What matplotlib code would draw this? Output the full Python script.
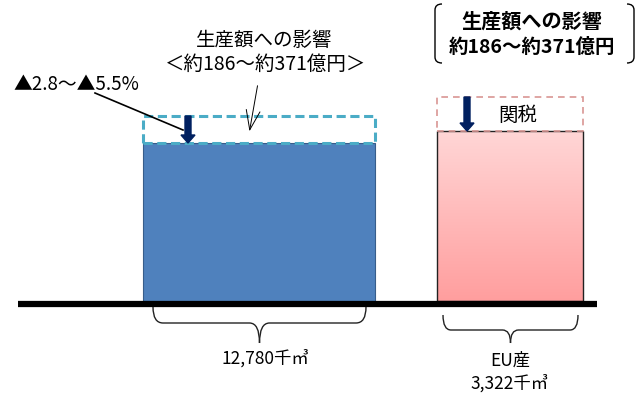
import numpy as np
import matplotlib.pyplot as plt
from matplotlib.path import Path
from matplotlib.patches import PathPatch, FancyArrow

plt.rcParams['font.family'] = ['Noto Sans CJK JP', 'DejaVu Sans']

# data (diagram heights in pixels, baseline = 0)
bar_labels = ['12,780千㎥', 'EU産\n3,322千㎥']
bar_heights = [158, 170]
tariff_heights = [27, 34]
impact_pct = '▲2.8～▲5.5%'
impact_title = '生産額への影響'
impact_range = '約186～約371億円'

# layout
bar_x = [259, 510]
bar_w = [232, 146]
bar_face = ['#4F81BD', None]
dash_col = ['#4BACC6', '#D99694']
arrow_x = [188, 467]
navy = '#002060'

fig = plt.figure(figsize=(6.4, 3.99), dpi=100)
ax = fig.add_axes([0, 0, 1, 1])
ax.set_xlim(0, 640)
ax.set_ylim(-98, 301)
ax.axis('off')

# blue bar
ax.bar(bar_x[0], bar_heights[0], width=bar_w[0], color=bar_face[0],
       edgecolor='#385D8A', linewidth=0.8, zorder=2)

# pink gradient bar
x0 = bar_x[1] - bar_w[1] / 2
x1 = bar_x[1] + bar_w[1] / 2
grad = np.linspace(0, 1, 256).reshape(-1, 1)
top = np.array([255, 214, 214]) / 255
bot = np.array([255, 158, 158]) / 255
img = top + (bot - top) * grad[:, :, None] * np.ones((1, 1, 3))
ax.imshow(img, extent=[x0, x1, 0, bar_heights[1]], origin='upper',
          aspect='auto', zorder=1)
ax.bar(bar_x[1], bar_heights[1], width=bar_w[1], color='none',
       edgecolor='#222222', linewidth=1.0, zorder=2)

# tariff dashed boxes + arrows
for i in range(2):
    ax.bar(bar_x[i], tariff_heights[i], bottom=bar_heights[i], width=bar_w[i],
           color='none', edgecolor=dash_col[i],
           linewidth=2.2 if i == 0 else 1.2,
           linestyle=(0, (3, 1.5)) if i == 0 else (0, (4, 3)), zorder=3)
    ax.add_patch(FancyArrow(arrow_x[i], bar_heights[i] + tariff_heights[i],
                            0, -tariff_heights[i], width=6, head_width=14,
                            head_length=8, length_includes_head=True,
                            color=navy, zorder=4))

ax.text(518, 186, '関税', ha='center', va='center', fontsize=14)

# baseline
ax.hlines(-3, 18, 597, color='black', linewidth=4.5, zorder=3)

# left annotations
ax.text(76, 216, impact_pct, ha='center', va='center', fontsize=13.5)
ax.plot([95, 183], [208, 171], color='black', linewidth=1.2, zorder=5)
ax.text(264, 261, impact_title, ha='center', va='center', fontsize=14)
ax.text(266, 237, '＜' + impact_range + '＞', ha='center', va='center',
        fontsize=14)
ax.annotate('', xy=(249, 167), xytext=(258, 218),
            arrowprops=dict(arrowstyle='->,head_length=1.4,head_width=0.5',
                            color='black', linewidth=0.7))

# right bold box
ax.text(532, 280, impact_title, ha='center', va='center', fontsize=14.5,
        fontweight='bold')
ax.text(532, 254, impact_range, ha='center', va='center', fontsize=14,
        fontweight='bold')


def paren(xa, xb, ya, yb, r):
    verts = [(xa, ya), (xb, ya), (xb, ya - r), (xb, yb + r), (xb, yb), (xa, yb)]
    codes = [Path.MOVETO, Path.CURVE3, Path.CURVE3, Path.LINETO,
             Path.CURVE3, Path.CURVE3]
    ax.add_patch(PathPatch(Path(verts, codes), fill=False, lw=1.0,
                           color='black'))


paren(442, 435, 297, 238, 6)
paren(627, 634, 297, 238, 6)


def brace(xa, xb, ytop, ymid, ytip, r=8):
    xc = (xa + xb) / 2
    left = [(xa, ytop), (xa, ymid), (xa + r, ymid), (xc - r, ymid),
            (xc, ymid), (xc, ytip)]
    codes = [Path.MOVETO, Path.CURVE3, Path.CURVE3, Path.LINETO,
             Path.CURVE3, Path.CURVE3]
    right = [(xb, ytop), (xb, ymid), (xb - r, ymid), (xc + r, ymid),
             (xc, ymid), (xc, ytip)]
    for v in (left, right):
        ax.add_patch(PathPatch(Path(v, codes), fill=False, lw=1.0,
                               color='#222222'))


brace(153, 366, -6, -22, -42, r=10)
brace(443, 578, -14, -29, -42, r=8)

ax.text(265, -57, bar_labels[0], ha='center', va='center', fontsize=12.5)
ax.text(510, -71, bar_labels[1], ha='center', va='center', fontsize=12.5,
        linespacing=1.3)

fig.savefig('out.png', dpi=100)
